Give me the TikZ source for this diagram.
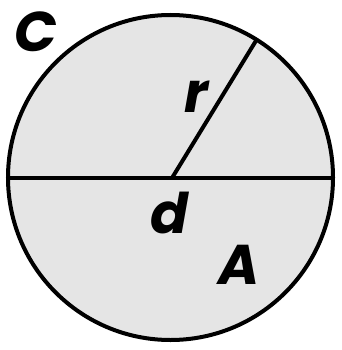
\documentclass[tikz,border=0pt]{standalone}
\usepackage{fontspec}
\setmainfont{Poppins}
\begin{document}
\begin{tikzpicture}[x=1pt,y=-1pt,
  lbl/.style={inner sep=0pt,font=\fontsize{56}{56}\selectfont\bfseries\itshape},
  ln/.style={line width=4pt,draw=black}]
\useasboundingbox (0,0) rectangle (341,350);
\node[circle,ln,fill=black!10,minimum size=325pt,inner sep=0pt,outer sep=0pt] (c0) at (170.5,177.5) {};
\coordinate (ctr) at (c0.center);
\draw[ln] (c0.west) -- (c0.east);
\draw[ln] (172,178) coordinate (rs) -- (c0.58);
\node[lbl] (lc) at (36,32) {C};
\node[lbl] (lr) at (196,97) {r};
\node[lbl] (ld) at (170,213) {d};
\node[lbl] (la) at (239,265) {A};
\end{tikzpicture}
\end{document}
